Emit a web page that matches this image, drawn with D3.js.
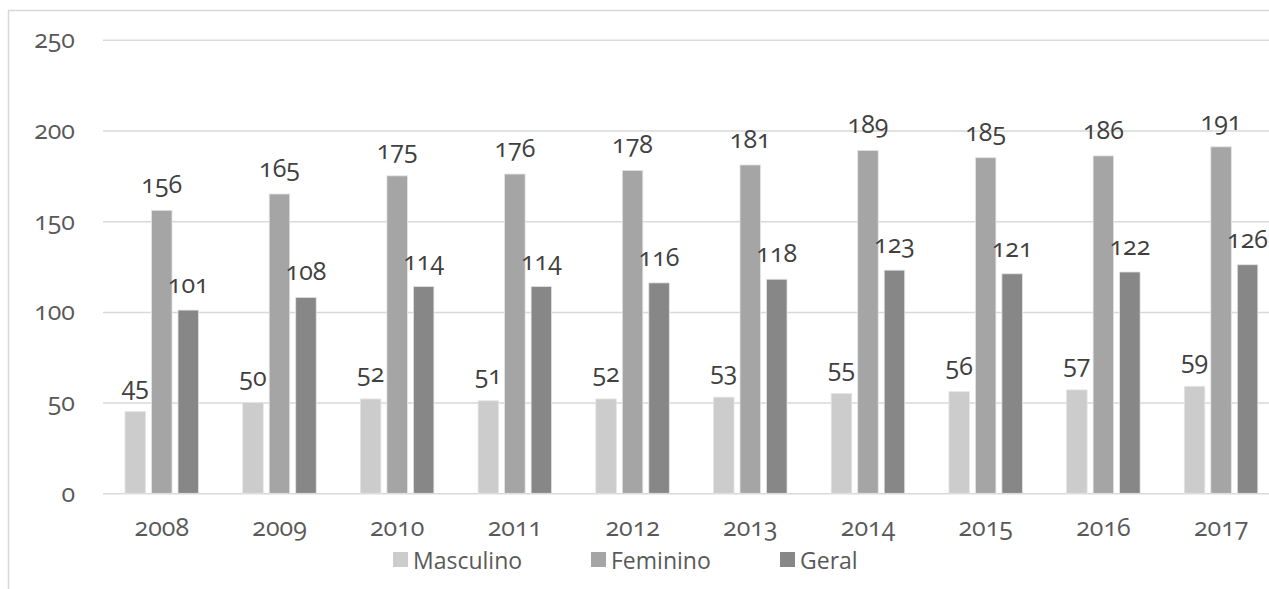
<!DOCTYPE html>
<html>
<head>
<meta charset="utf-8">
<script src="https://cdn.jsdelivr.net/npm/d3@7/dist/d3.min.js"></script>
<style>
  html, body { margin: 0; padding: 0; background: #ffffff; }
  svg { display: block; }
  svg text { font-family: "Open Sans", Lato, sans-serif; font-variant-numeric: oldstyle-nums; font-feature-settings: "onum" 1; }
</style>
</head>
<body>
<svg id="chart" width="1269" height="589"></svg>
<script>
// Anos e séries
const years = ["2008", "2009", "2010", "2011", "2012", "2013", "2014", "2015", "2016", "2017"];
const seriesNames = ["Masculino", "Feminino", "Geral"];
const masculino = [45, 50, 52, 51, 52, 53, 55, 56, 57, 59];
const feminino = [156, 165, 175, 176, 178, 181, 189, 185, 186, 191];
const geral = [101, 108, 114, 114, 116, 118, 123, 121, 122, 126];
const yTicks = [0, 50, 100, 150, 200, 250];
const colors = ["#cccccc", "#a5a5a5", "#878787"];

const seriesValues = [masculino, feminino, geral];
const rows = years.map((y, i) => ({
  year: y,
  values: seriesNames.map((s, j) => ({ key: s, value: seriesValues[j][i], color: colors[j] }))
}));

const svg = d3.select("#chart");

// outer chart frame
svg.append("rect")
  .attr("x", 8.5).attr("y", 10.5)
  .attr("width", 1300).attr("height", 700)
  .attr("fill", "none").attr("stroke", "#d9d9d9").attr("stroke-width", 1.5);

const x0 = d3.scaleBand().domain(years).range([103, 1280]).paddingInner(0).paddingOuter(0);
const bw0 = x0.bandwidth();
const x1 = d3.scaleBand().domain(seriesNames)
  .range([bw0 * 0.187, bw0 * 0.187 + 73.5]).paddingInner(0.226).paddingOuter(0);
const y = d3.scaleLinear().domain([0, 250]).range([493.3, 39.8]);

// horizontal gridlines
const yAxis = d3.axisLeft(y).tickValues(yTicks).tickSize(-(1280 - 103)).tickPadding(28).tickFormat(d3.format("d"));
const gy = svg.append("g").attr("transform", "translate(103,0)").call(yAxis)
  .attr("font-family", null).attr("font-size", 25);
gy.select(".domain").remove();
gy.selectAll(".tick line").attr("stroke", "#d9d9d9").attr("stroke-width", 1.5);
gy.selectAll(".tick text").attr("fill", "#595959").attr("dy", "0.32em");

// year labels along the bottom
const xAxis = d3.axisBottom(x0).tickSize(0).tickPadding(25);
const gx = svg.append("g").attr("transform", "translate(0,493.3)").call(xAxis)
  .attr("font-family", null).attr("font-size", 25);
gx.select(".domain").remove();
gx.selectAll(".tick text").attr("fill", "#595959");

// grouped bars
const groups = svg.append("g").selectAll("g").data(rows).join("g")
  .attr("transform", d => `translate(${x0(d.year)},0)`);

groups.selectAll("rect").data(d => d.values).join("rect")
  .attr("x", d => x1(d.key))
  .attr("y", d => y(d.value))
  .attr("width", x1.bandwidth())
  .attr("height", d => y(0) - y(d.value))
  .attr("fill", d => d.color)
  .attr("stroke", "#e4e4e4").attr("stroke-width", 0.8);

// value labels above each bar
groups.selectAll("text.val").data(d => d.values).join("text")
  .attr("class", "val")
  .attr("x", d => x1(d.key) + x1.bandwidth() / 2)
  .attr("y", d => y(d.value) - 17)
  .attr("text-anchor", "middle")
  .attr("fill", "#404040")
  .attr("font-size", 25)
  .text(d => d.value);

// legend
const legendX = [393, 591, 780];
const legend = svg.append("g").selectAll("g").data(seriesNames).join("g")
  .attr("transform", (d, i) => `translate(${legendX[i]},0)`);
legend.append("rect")
  .attr("x", 0).attr("y", 552).attr("width", 15).attr("height", 15)
  .attr("fill", (d, i) => colors[i]);
legend.append("text")
  .attr("x", 20).attr("y", 568.5)
  .attr("fill", "#595959").attr("font-size", 23)
  .text(d => d);
</script>
</body>
</html>
